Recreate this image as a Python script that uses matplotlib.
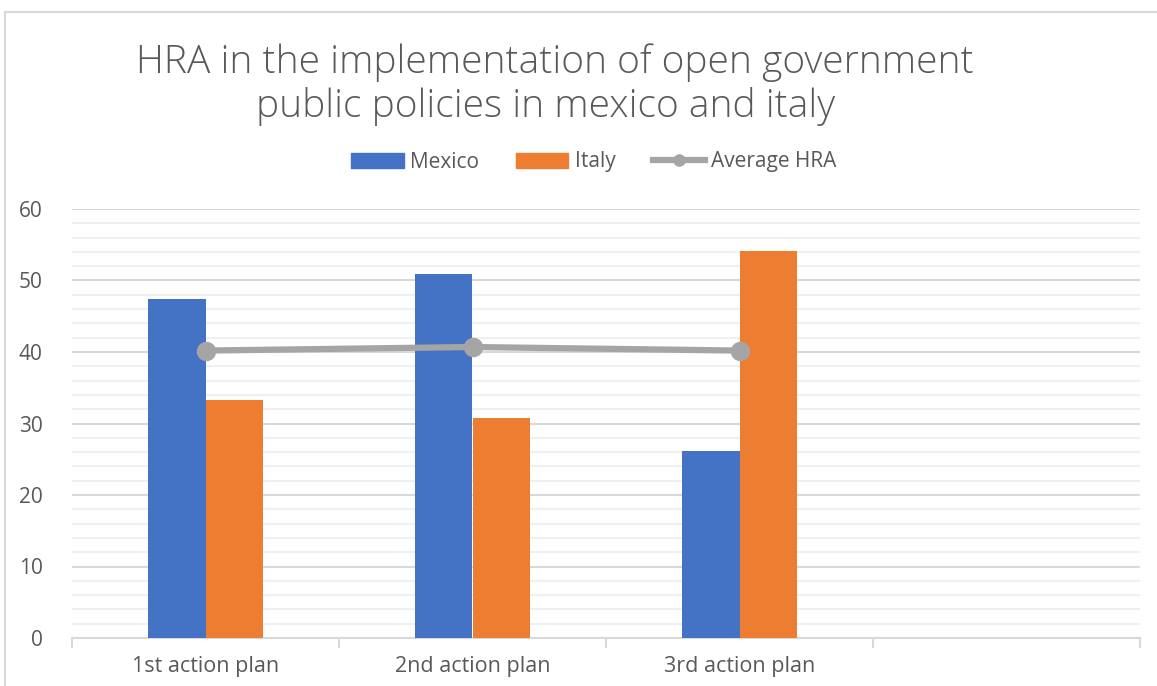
import matplotlib
matplotlib.use("Agg")
from matplotlib import pyplot as plt
from matplotlib.patches import Rectangle
from matplotlib.lines import Line2D
import numpy as np

categories = ["1st action plan", "2nd action plan", "3rd action plan", ""]
mexico = [47.4, 50.9, 26.2]
italy = [33.3, 30.7, 54.1]
average_hra = [40.2, 40.7, 40.2]

blue = "#4472C4"
orange = "#ED7D31"
grey = "#A5A5A5"
text_grey = "#595959"

plt.rcParams["font.family"] = ["Open Sans", "DejaVu Sans"]

fig = plt.figure(figsize=(11.57, 6.86), dpi=100)
ax = fig.add_axes([72 / 1157, 48 / 686, 1068 / 1157, 429 / 686])

# outer chart border
fig.patches.append(Rectangle((5 / 1157, -0.1), 1.2, 1.1 - 12 / 686,
                             transform=fig.transFigure, fill=False,
                             edgecolor="#D9D9D9", linewidth=1.5))

x = np.arange(len(mexico))
width = 0.214
ax.bar(x - width / 2, mexico, width, color=blue, linewidth=0, zorder=3, label="Mexico")
ax.bar(x + width / 2, italy, width, color=orange, linewidth=0, zorder=3, label="Italy")
ax.plot(x, average_hra, color=grey, linewidth=4.5, marker="o", markersize=13,
        zorder=4, label="Average HRA")

ax.set_xlim(-0.5, len(categories) - 0.5)
ax.set_ylim(0, 60)
ax.set_yticks(range(0, 61, 10))
ax.set_yticks(range(0, 61, 2), minor=True)
ax.grid(axis="y", which="major", color="#D9D9D9", linewidth=1.5, zorder=0)
ax.grid(axis="y", which="minor", color="#F0F0F0", linewidth=1.5, zorder=0)
ax.tick_params(axis="y", which="both", length=0, labelsize=15,
               labelcolor=text_grey, pad=21)

# category labels centred, tick marks on category boundaries
ax.set_xticks(np.arange(len(categories) + 1) - 0.5)
ax.set_xticklabels([])
ax.set_xticks(np.arange(len(categories)), minor=True)
ax.set_xticklabels(categories, minor=True)
ax.tick_params(axis="x", which="major", length=7, color="#D9D9D9", width=1.5)
ax.tick_params(axis="x", which="minor", length=0, labelsize=15.5,
               labelcolor=text_grey, pad=13)

for side in ["top", "right", "left"]:
    ax.spines[side].set_visible(False)
ax.spines["bottom"].set_color("#D9D9D9")
ax.spines["bottom"].set_linewidth(1.5)

fig.text(555 / 1157, 1 - 63 / 686, "HRA in the implementation of open government",
         ha="center", va="center", fontsize=28, color=text_grey, fontweight="light")
fig.text(546 / 1157, 1 - 107 / 686, "public policies in mexico and italy",
         ha="center", va="center", fontsize=28, color=text_grey, fontweight="light")

handles = [Rectangle((0, 0), 1, 1, color=blue),
           Rectangle((0, 0), 1, 1, color=orange),
           Line2D([], [], color=grey, linewidth=4.5, marker="o", markersize=8)]
fig.legend(handles, ["Mexico", "Italy", "Average HRA"], loc="center",
           bbox_to_anchor=(594 / 1157, 1 - 162 / 686), ncol=3, frameon=False,
           fontsize=15, labelcolor=text_grey, handlelength=2.5, handleheight=0.75,
           handletextpad=0.3, columnspacing=1.8)

fig.savefig("out.png", dpi=100)
